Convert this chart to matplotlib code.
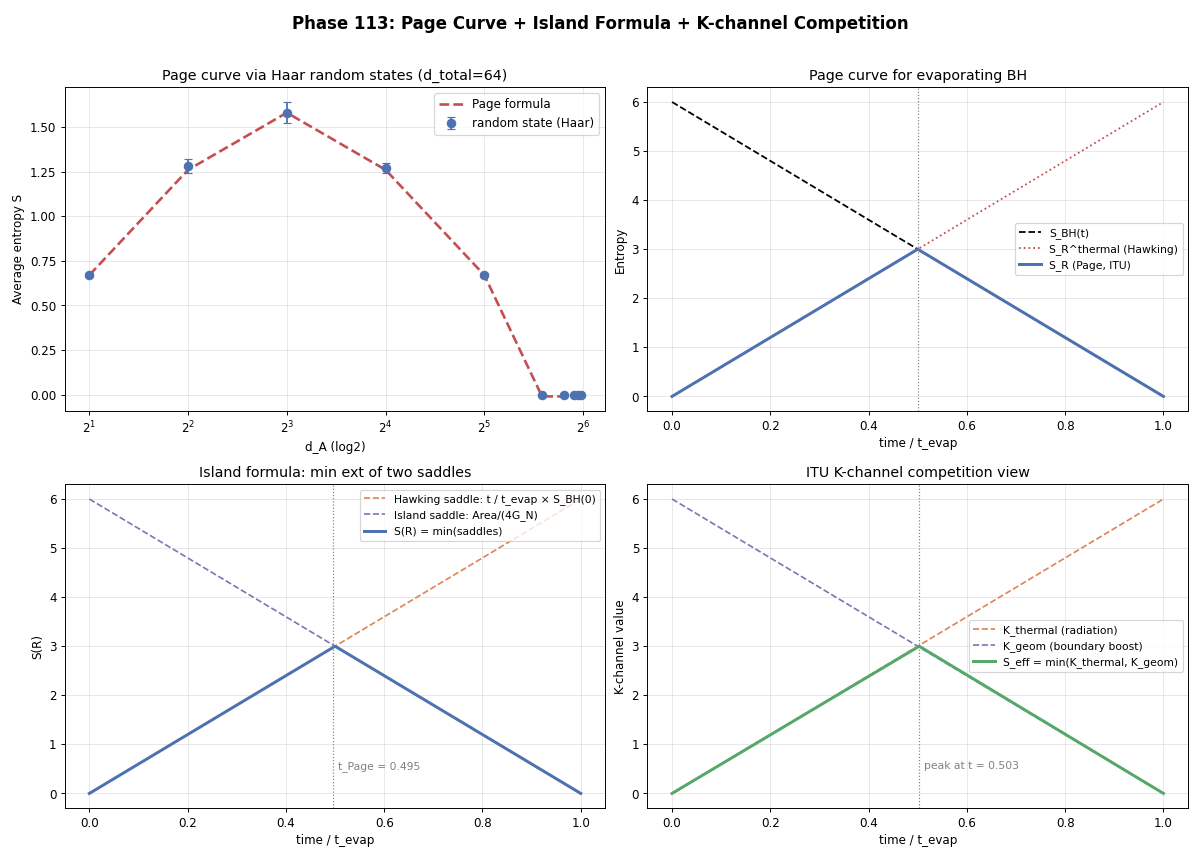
import matplotlib
matplotlib.use("Agg")
import matplotlib.pyplot as plt
import numpy as np

# ---- data ----
d_A = [2, 4, 8, 16, 32, 48, 56, 60, 62, 63]
page_formula = [0.67, 1.26, 1.58, 1.26, 0.67, -0.01, -0.01, -0.01, -0.01, -0.01]
haar_mean = [0.67, 1.28, 1.58, 1.27, 0.67, 0.0, 0.0, 0.0, 0.0, 0.0]
haar_err = [0.01, 0.04, 0.06, 0.03, 0.01, 0.0, 0.0, 0.0, 0.0, 0.0]

t = [0.0, 0.5, 1.0]
S_BH = [6.0, 3.0, 0.0]
S_thermal = [0.0, 3.0, 6.0]
S_page = [0.0, 3.0, 0.0]

t_isl = [0.0, 0.5, 1.0]
hawking_saddle = [0.0, 3.0, 6.0]
island_saddle = [6.0, 3.0, 0.0]
S_R_min = [0.0, 3.0, 0.0]
t_page = 0.495

t_k = [0.0, 0.503, 1.0]
K_thermal = [0.0, 3.018, 6.0]
K_geom = [6.0, 2.982, 0.0]
S_eff = [0.0, 3.0, 0.0]
t_peak = 0.503

BLUE = "#4C72B0"
ORANGE = "#DD8452"
GREEN = "#55A868"
RED = "#C44E52"
PURPLE = "#8172B3"

fig, axes = plt.subplots(2, 2, figsize=(14, 10), dpi=1200 / 14)
fig.subplots_adjust(left=0.054, right=0.99, top=0.898, bottom=0.057, wspace=0.078, hspace=0.226)
fig.suptitle("Phase 113: Page Curve + Island Formula + K-channel Competition",
             fontsize=14, fontweight="bold", y=0.982)

# top-left
ax = axes[0, 0]
ax.plot(d_A, page_formula, "--", color=RED, lw=2.2, label="Page formula")
ax.errorbar(d_A, haar_mean, yerr=haar_err, fmt="o", color=BLUE, ms=7, capsize=3,
            label="random state (Haar)")
ax.set_xscale("log", base=2)
ax.set_xlabel("d_A (log2)")
ax.set_ylabel("Average entropy S")
ax.set_title("Page curve via Haar random states (d_total=64)")
ax.legend(loc="upper right")
ax.grid(True, alpha=0.3)

# top-right
ax = axes[0, 1]
ax.plot(t, S_BH, "--", color="black", lw=1.5, label="S_BH(t)")
ax.plot(t, S_thermal, ":", color=RED, lw=1.5, label="S_R^thermal (Hawking)")
ax.plot(t, S_page, "-", color=BLUE, lw=2.5, label="S_R (Page, ITU)")
ax.axvline(0.5, color="gray", ls=":", lw=1)
ax.set_xlabel("time / t_evap")
ax.set_ylabel("Entropy")
ax.set_title("Page curve for evaporating BH")
ax.legend(loc="center right", fontsize=9)
ax.grid(True, alpha=0.3)

# bottom-left
ax = axes[1, 0]
ax.plot(t_isl, hawking_saddle, "--", color=ORANGE, lw=1.4, label="Hawking saddle: t / t_evap × S_BH(0)")
ax.plot(t_isl, island_saddle, "--", color=PURPLE, lw=1.4, label="Island saddle: Area/(4G_N)")
ax.plot(t_isl, S_R_min, "-", color=BLUE, lw=2.5, label="S(R) = min(saddles)")
ax.axvline(t_page, color="gray", ls=":", lw=1)
ax.text(t_page + 0.01, 0.5, f"t_Page = {t_page:.3f}", color="gray", fontsize=9)
ax.set_xlabel("time / t_evap")
ax.set_ylabel("S(R)")
ax.set_title("Island formula: min ext of two saddles")
ax.legend(loc="upper right", fontsize=9)
ax.grid(True, alpha=0.3)

# bottom-right
ax = axes[1, 1]
ax.plot(t_k, K_thermal, "--", color=ORANGE, lw=1.4, label="K_thermal (radiation)")
ax.plot(t_k, K_geom, "--", color=PURPLE, lw=1.4, label="K_geom (boundary boost)")
ax.plot(t_k, S_eff, "-", color=GREEN, lw=2.5, label="S_eff = min(K_thermal, K_geom)")
ax.axvline(t_peak, color="gray", ls=":", lw=1)
ax.text(t_peak + 0.01, 0.5, f"peak at t = {t_peak:.3f}", color="gray", fontsize=9)
ax.set_xlabel("time / t_evap")
ax.set_ylabel("K-channel value")
ax.set_title("ITU K-channel competition view")
ax.legend(loc="center right", fontsize=9)
ax.grid(True, alpha=0.3)

fig.savefig("out.png", dpi=1200 / 14)
